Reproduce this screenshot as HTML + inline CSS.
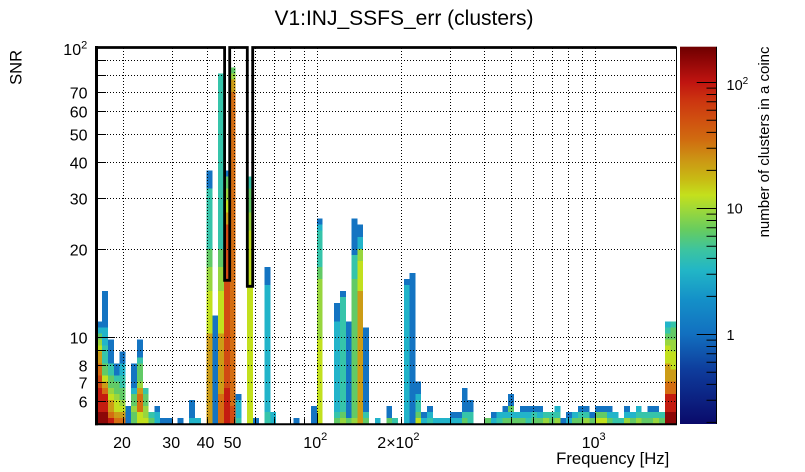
<!DOCTYPE html>
<html><head><meta charset="utf-8">
<style>
html,body{margin:0;padding:0;background:#fff}
svg{display:block}
text{font-family:"Liberation Sans",Arial,sans-serif;fill:#000}
.K{fill:#8c0808}.E{fill:#c41c10}.R{fill:#d04a12}.A{fill:#d46e12}.O{fill:#cc9c16}
.Y{fill:#c2e01e}.L{fill:#98d63e}.G{fill:#62ca66}.T{fill:#36c4aa}.C{fill:#22b4ca}.B{fill:#1474c2}
</style></head><body>
<svg width="805" height="472" viewBox="0 0 805 472" xmlns="http://www.w3.org/2000/svg">
<defs>
<linearGradient id="cb" x1="0" y1="0" x2="0" y2="1">
<stop offset="0" stop-color="#6e0000"/>
<stop offset="0.035" stop-color="#8e0606"/>
<stop offset="0.094" stop-color="#c01410"/>
<stop offset="0.141" stop-color="#cc3410"/>
<stop offset="0.194" stop-color="#d05010"/>
<stop offset="0.247" stop-color="#d06c10"/>
<stop offset="0.300" stop-color="#cc9614"/>
<stop offset="0.353" stop-color="#c8bc14"/>
<stop offset="0.393" stop-color="#c4e01c"/>
<stop offset="0.433" stop-color="#9cd83a"/>
<stop offset="0.486" stop-color="#66cc60"/>
<stop offset="0.539" stop-color="#3cc4a0"/>
<stop offset="0.592" stop-color="#22b6c6"/>
<stop offset="0.671" stop-color="#1490c8"/>
<stop offset="0.761" stop-color="#1270c0"/>
<stop offset="0.857" stop-color="#0e3c9c"/>
<stop offset="1" stop-color="#0a0a6a"/>
</linearGradient>
</defs>
<rect width="805" height="472" fill="#fff"/>

<g transform="translate(96.4,424) scale(5.8,-6.04)" shape-rendering="crispEdges">
<!-- col0 -->
<rect class="K" x="0" y="0" width="1" height="2"/><rect class="E" x="0" y="2" width="1" height="4"/><rect class="R" x="0" y="6" width="1" height="2"/><rect class="A" x="0" y="8" width="1" height="2"/><rect class="O" x="0" y="10" width="1" height="2"/><rect class="Y" x="0" y="12" width="1" height="1"/><rect class="L" x="0" y="13" width="1" height="1"/><rect class="G" x="0" y="14" width="1" height="1"/><rect class="C" x="0" y="15" width="1" height="1"/><rect class="B" x="0" y="16" width="1" height="1"/>
<!-- col1 -->
<rect class="K" x="1" y="0" width="1" height="2"/><rect class="E" x="1" y="2" width="1" height="3"/><rect class="A" x="1" y="5" width="1" height="1"/><rect class="O" x="1" y="6" width="1" height="1"/><rect class="Y" x="1" y="7" width="1" height="1"/><rect class="G" x="1" y="8" width="1" height="2"/><rect class="T" x="1" y="10" width="1" height="3"/><rect class="C" x="1" y="13" width="1" height="3"/><rect class="B" x="1" y="16" width="1" height="6"/>
<!-- col2 -->
<rect class="E" x="2" y="0" width="1" height="1"/><rect class="A" x="2" y="1" width="1" height="1"/><rect class="O" x="2" y="2" width="1" height="2"/><rect class="Y" x="2" y="4" width="1" height="1"/><rect class="L" x="2" y="5" width="1" height="1"/><rect class="G" x="2" y="6" width="1" height="2"/><rect class="T" x="2" y="8" width="1" height="2"/><rect class="B" x="2" y="10" width="1" height="4"/>
<!-- col3 -->
<rect class="A" x="3" y="0" width="1" height="1"/><rect class="O" x="3" y="1" width="1" height="1"/><rect class="Y" x="3" y="2" width="1" height="2"/><rect class="L" x="3" y="4" width="1" height="1"/><rect class="G" x="3" y="5" width="1" height="2"/><rect class="T" x="3" y="7" width="1" height="1"/><rect class="B" x="3" y="8" width="1" height="2"/>
<!-- col4 -->
<rect class="A" x="4" y="0" width="1" height="1"/><rect class="O" x="4" y="1" width="1" height="1"/><rect class="Y" x="4" y="2" width="1" height="1"/><rect class="L" x="4" y="3" width="1" height="1"/><rect class="G" x="4" y="4" width="1" height="2"/><rect class="T" x="4" y="6" width="1" height="2"/><rect class="C" x="4" y="8" width="1" height="2"/><rect class="B" x="4" y="10" width="1" height="2"/>
<!-- col5 -->
<rect class="B" x="5" y="0" width="1" height="3"/>
<!-- col6 -->
<rect class="G" x="6" y="0" width="1" height="2"/><rect class="L" x="6" y="2" width="1" height="1"/><rect class="G" x="6" y="3" width="1" height="2"/><rect class="C" x="6" y="5" width="1" height="1"/><rect class="B" x="6" y="6" width="1" height="4"/>
<!-- col7 -->
<rect class="Y" x="7" y="0" width="1" height="2"/><rect class="A" x="7" y="2" width="1" height="3"/><rect class="O" x="7" y="5" width="1" height="1"/><rect class="L" x="7" y="6" width="1" height="1"/><rect class="G" x="7" y="7" width="1" height="3"/><rect class="T" x="7" y="10" width="1" height="1"/><rect class="B" x="7" y="11" width="1" height="3"/>
<!-- col8 -->
<rect class="Y" x="8" y="0" width="1" height="1"/><rect class="L" x="8" y="1" width="1" height="2"/><rect class="G" x="8" y="3" width="1" height="2"/><rect class="T" x="8" y="5" width="1" height="1"/>
<!-- col9 -->
<rect class="G" x="9" y="0" width="1" height="1"/><rect class="T" x="9" y="1" width="1" height="1"/>
<!-- col10 -->
<rect class="C" x="10" y="0" width="1" height="2"/><rect class="B" x="10" y="2" width="1" height="1"/>
<rect class="B" x="11" y="0" width="1" height="1"/>
<rect class="B" x="12" y="0" width="1" height="1"/>
<rect class="B" x="14" y="0" width="1" height="1"/>
<!-- col16 -->
<rect class="C" x="16" y="0" width="1" height="1"/><rect class="B" x="16" y="1" width="1" height="3"/>
<rect class="C" x="17" y="0" width="1" height="1"/>
<!-- col19 -->
<rect class="O" x="19" y="0" width="1" height="15"/><rect class="Y" x="19" y="15" width="1" height="7"/><rect class="L" x="19" y="22" width="1" height="4"/><rect class="G" x="19" y="26" width="1" height="3"/><rect class="T" x="19" y="29" width="1" height="10"/><rect class="B" x="19" y="39" width="1" height="3"/>
<!-- col20 -->
<rect class="B" x="20" y="0" width="1" height="18"/>
<!-- col21 -->
<rect class="A" x="21" y="0" width="1" height="5"/><rect class="O" x="21" y="5" width="1" height="10"/><rect class="Y" x="21" y="15" width="1" height="7"/><rect class="L" x="21" y="22" width="1" height="4"/><rect class="G" x="21" y="26" width="1" height="3"/><rect class="T" x="21" y="29" width="1" height="29"/>
<!-- col22 -->
<rect class="E" x="22" y="0" width="1" height="6"/><rect class="R" x="22" y="6" width="1" height="27"/><rect class="O" x="22" y="33" width="1" height="2"/><rect class="Y" x="22" y="35" width="1" height="2"/><rect class="L" x="22" y="37" width="1" height="2"/><rect class="G" x="22" y="39" width="1" height="2"/><rect class="B" x="22" y="41" width="1" height="1"/>
<!-- col23 -->
<rect class="R" x="23" y="0" width="1" height="3"/><rect class="A" x="23" y="3" width="1" height="52"/><rect class="O" x="23" y="55" width="1" height="2"/><rect class="L" x="23" y="57" width="1" height="1"/><rect class="G" x="23" y="58" width="1" height="1"/>
<!-- col24 -->
<rect class="T" x="24" y="0" width="1" height="1"/><rect class="C" x="24" y="1" width="1" height="3"/><rect class="B" x="24" y="4" width="1" height="1"/>
<!-- col26 -->
<rect class="Y" x="26" y="0" width="1" height="32"/><rect class="L" x="26" y="32" width="1" height="3"/><rect class="G" x="26" y="35" width="1" height="4"/><rect class="T" x="26" y="39" width="1" height="2"/>
<rect class="B" x="27" y="0" width="1" height="1"/>
<!-- col29 -->
<rect class="T" x="29" y="0" width="1" height="2"/><rect class="C" x="29" y="2" width="1" height="21"/><rect class="B" x="29" y="23" width="1" height="3"/>
<rect class="C" x="30" y="0" width="1" height="2"/>
<rect class="B" x="34" y="0" width="1" height="1"/>
<rect class="B" x="37" y="0" width="1" height="3"/>
<!-- col38 -->
<rect class="Y" x="38" y="0" width="1" height="14"/><rect class="L" x="38" y="14" width="1" height="10"/><rect class="G" x="38" y="24" width="1" height="2"/><rect class="T" x="38" y="26" width="1" height="6"/><rect class="C" x="38" y="32" width="1" height="1"/><rect class="B" x="38" y="33" width="1" height="1"/>
<!-- col41 -->
<rect class="G" x="41" y="0" width="1" height="1"/><rect class="T" x="41" y="1" width="1" height="1"/><rect class="C" x="41" y="2" width="1" height="15"/><rect class="B" x="41" y="17" width="1" height="3"/>
<!-- col42 -->
<rect class="L" x="42" y="0" width="1" height="1"/><rect class="G" x="42" y="1" width="1" height="1"/><rect class="T" x="42" y="2" width="1" height="19"/><rect class="B" x="42" y="21" width="1" height="1"/>
<!-- col43 -->
<rect class="G" x="43" y="0" width="1" height="1"/><rect class="B" x="43" y="1" width="1" height="16"/>
<!-- col44 -->
<rect class="L" x="44" y="0" width="1" height="1"/><rect class="G" x="44" y="1" width="1" height="23"/><rect class="T" x="44" y="24" width="1" height="4"/><rect class="B" x="44" y="28" width="1" height="6"/>
<!-- col45 -->
<rect class="O" x="45" y="0" width="1" height="22"/><rect class="Y" x="45" y="22" width="1" height="5"/><rect class="L" x="45" y="27" width="1" height="2"/><rect class="C" x="45" y="29" width="1" height="2"/><rect class="B" x="45" y="31" width="1" height="2"/>
<!-- col46 -->
<rect class="G" x="46" y="0" width="1" height="1"/><rect class="T" x="46" y="1" width="1" height="1"/><rect class="B" x="46" y="2" width="1" height="14"/>
<rect class="C" x="48" y="0" width="1" height="1"/>
<rect class="G" x="50" y="0" width="1" height="1"/><rect class="B" x="50" y="1" width="1" height="2"/>
<rect class="T" x="51" y="0" width="1" height="1"/>
<!-- col53,54 -->
<rect class="C" x="53" y="0" width="1" height="23"/><rect class="B" x="53" y="23" width="1" height="1"/>
<rect class="B" x="54" y="0" width="1" height="25"/>
<!-- col55 -->
<rect class="Y" x="55" y="0" width="1" height="1"/><rect class="G" x="55" y="1" width="1" height="1"/><rect class="T" x="55" y="2" width="1" height="2"/><rect class="C" x="55" y="4" width="1" height="1"/><rect class="B" x="55" y="5" width="1" height="2"/>
<rect class="C" x="56" y="0" width="1" height="1"/><rect class="B" x="56" y="1" width="1" height="1"/>
<rect class="T" x="57" y="0" width="1" height="1"/><rect class="C" x="57" y="1" width="1" height="1"/><rect class="B" x="57" y="2" width="1" height="1"/>
<rect class="C" x="58" y="0" width="3" height="1"/>
<rect class="C" x="61" y="0" width="2" height="1"/><rect class="B" x="61" y="1" width="2" height="1"/>
<rect class="G" x="63" y="0" width="1" height="1"/><rect class="T" x="63" y="1" width="1" height="1"/><rect class="B" x="63" y="2" width="1" height="4"/>
<rect class="T" x="64" y="0" width="1" height="2"/><rect class="B" x="64" y="2" width="1" height="2"/>
<rect class="G" x="67" y="0" width="1" height="1"/>
<rect class="C" x="68" y="0" width="1" height="1"/><rect class="B" x="68" y="1" width="1" height="1"/>
<rect class="T" x="69" y="0" width="1" height="1"/><rect class="C" x="69" y="1" width="1" height="1"/>
<rect class="G" x="70" y="0" width="1" height="1"/><rect class="C" x="70" y="1" width="1" height="1"/><rect class="B" x="70" y="2" width="1" height="1"/>
<rect class="G" x="71" y="0" width="1" height="1"/><rect class="C" x="71" y="1" width="1" height="1"/><rect class="G" x="71" y="2" width="1" height="1"/><rect class="B" x="71" y="3" width="1" height="2"/>
<rect class="G" x="72" y="0" width="1" height="1"/><rect class="C" x="72" y="1" width="1" height="1"/>
<rect class="G" x="73" y="0" width="1" height="1"/><rect class="C" x="73" y="1" width="1" height="1"/><rect class="B" x="73" y="2" width="1" height="1"/>
<rect class="T" x="74" y="0" width="1" height="1"/><rect class="C" x="74" y="1" width="1" height="1"/><rect class="B" x="74" y="2" width="1" height="1"/>
<rect class="G" x="75" y="0" width="1" height="1"/><rect class="T" x="75" y="1" width="1" height="1"/><rect class="B" x="75" y="2" width="1" height="1"/>
<rect class="G" x="76" y="0" width="1" height="1"/><rect class="C" x="76" y="1" width="1" height="1"/><rect class="B" x="76" y="2" width="1" height="1"/>
<rect class="L" x="77" y="0" width="1" height="1"/><rect class="T" x="77" y="1" width="1" height="1"/>
<rect class="G" x="78" y="0" width="1" height="1"/><rect class="T" x="78" y="1" width="1" height="1"/>
<rect class="L" x="79" y="0" width="1" height="1"/><rect class="T" x="79" y="1" width="1" height="1"/><rect class="C" x="79" y="2" width="1" height="1"/>
<rect class="B" x="80" y="0" width="1" height="1"/>
<rect class="C" x="81" y="0" width="1" height="1"/><rect class="B" x="81" y="1" width="1" height="1"/>
<rect class="G" x="82" y="0" width="1" height="1"/><rect class="C" x="82" y="1" width="1" height="1"/>
<rect class="G" x="83" y="0" width="1" height="1"/><rect class="T" x="83" y="1" width="1" height="1"/><rect class="B" x="83" y="2" width="1" height="1"/>
<rect class="L" x="84" y="0" width="1" height="1"/><rect class="T" x="84" y="1" width="1" height="1"/><rect class="B" x="84" y="2" width="1" height="1"/>
<rect class="G" x="85" y="0" width="1" height="1"/><rect class="B" x="85" y="1" width="1" height="1"/>
<rect class="Y" x="86" y="0" width="2" height="1"/><rect class="G" x="86" y="1" width="2" height="1"/><rect class="B" x="86" y="2" width="2" height="1"/>
<rect class="G" x="88" y="0" width="1" height="1"/><rect class="C" x="88" y="1" width="1" height="1"/><rect class="B" x="88" y="2" width="1" height="1"/>
<rect class="T" x="89" y="0" width="1" height="1"/><rect class="C" x="89" y="1" width="1" height="1"/>
<rect class="T" x="90" y="0" width="1" height="1"/>
<rect class="L" x="91" y="0" width="1" height="1"/><rect class="C" x="91" y="1" width="1" height="1"/><rect class="B" x="91" y="2" width="1" height="1"/>
<rect class="G" x="92" y="0" width="1" height="1"/><rect class="C" x="92" y="1" width="1" height="1"/>
<rect class="L" x="93" y="0" width="1" height="1"/><rect class="T" x="93" y="1" width="1" height="1"/><rect class="C" x="93" y="2" width="1" height="1"/>
<rect class="G" x="94" y="0" width="1" height="1"/><rect class="T" x="94" y="1" width="1" height="1"/>
<rect class="G" x="95" y="0" width="1" height="1"/><rect class="T" x="95" y="1" width="1" height="1"/><rect class="B" x="95" y="2" width="1" height="1"/>
<rect class="L" x="96" y="0" width="1" height="1"/><rect class="T" x="96" y="1" width="1" height="1"/><rect class="B" x="96" y="2" width="1" height="1"/>
<rect class="G" x="97" y="0" width="1" height="1"/><rect class="T" x="97" y="1" width="1" height="1"/>
<!-- col98 -->
<rect class="K" x="98" y="0" width="1" height="2"/><rect class="E" x="98" y="2" width="1" height="3"/><rect class="A" x="98" y="5" width="1" height="2"/><rect class="O" x="98" y="7" width="1" height="3"/><rect class="Y" x="98" y="10" width="1" height="3"/><rect class="L" x="98" y="13" width="1" height="1"/><rect class="G" x="98" y="14" width="1" height="1"/><rect class="T" x="98" y="15" width="1" height="1"/><rect class="C" x="98" y="16" width="1" height="1"/>
<!-- col99 -->
<rect class="K" x="99" y="0" width="1" height="2"/><rect class="E" x="99" y="2" width="1" height="3"/><rect class="A" x="99" y="5" width="1" height="2"/><rect class="O" x="99" y="7" width="1" height="2"/><rect class="Y" x="99" y="9" width="1" height="3"/><rect class="L" x="99" y="12" width="1" height="2"/><rect class="G" x="99" y="14" width="1" height="2"/><rect class="T" x="99" y="16" width="1" height="1"/>
</g>

<!-- grid -->
<path d="M123.5,48V424M172.5,48V424M207.5,48V424M234.5,48V424M255.5,48V424M274.5,48V424M290.5,48V424M304.5,48V424M317.5,48V424M401.5,48V424M450.5,48V424M484.5,48V424M511.5,48V424M533.5,48V424M552.5,48V424M568.5,48V424M582.5,48V424M595.5,48V424
M98,60.5H676M98,75.5H676M98,92.5H676M98,111.5H676M98,134.5H676M98,162.5H676M98,198.5H676M98,249.5H676M98,337.5H676M98,350.5H676M98,365.5H676M98,382.5H676M98,401.5H676" stroke="#000" stroke-width="1" stroke-dasharray="1,2" fill="none"/>

<!-- ticks -->
<path d="M317.5,424V413M595.5,424V413M123.5,424V418.3M172.5,424V418.3M207.5,424V418.3M234.5,424V418.3M255.5,424V418.3M274.5,424V418.3M290.5,424V418.3M304.5,424V418.3M401.5,424V418.3M450.5,424V418.3M484.5,424V418.3M511.5,424V418.3M533.5,424V418.3M552.5,424V418.3M568.5,424V418.3M582.5,424V418.3
M96,337.5H115M96,350.5H106M96,365.5H106M96,382.5H106M96,401.5H106M96,249.5H106M96,198.5H106M96,162.5H106M96,134.5H106M96,111.5H106M96,92.5H106M96,75.5H106M96,60.5H106" stroke="#000" stroke-width="1" fill="none"/>

<!-- frame -->
<path d="M95,47.5H224.6V280.3H229.7V47.5H247.3V286.3H252.7V47.5H676.5" stroke="#000" stroke-width="2.8" fill="none" stroke-linejoin="miter"/>
<line x1="96.5" y1="46" x2="96.5" y2="425.3" stroke="#000" stroke-width="3"/>
<line x1="95" y1="424.3" x2="677" y2="424.3" stroke="#000" stroke-width="2"/>
<line x1="676.5" y1="47" x2="676.5" y2="424" stroke="#000" stroke-width="1"/>

<!-- colorbar -->
<rect x="680" y="46.7" width="36.5" height="377.3" fill="url(#cb)"/>
<line x1="716.5" y1="46.7" x2="716.5" y2="424" stroke="#000" stroke-width="1"/>
<path d="M716.5,82.5H696.7M716.5,208.5H696.7M716.5,334.5H696.7
M716.5,88.1H706.5M716.5,94.5H706.5M716.5,101.8H706.5M716.5,110.3H706.5M716.5,120.2H706.5M716.5,132.4H706.5M716.5,148.2H706.5M716.5,170.4H706.5
M716.5,214.1H706.5M716.5,220.5H706.5M716.5,227.8H706.5M716.5,236.3H706.5M716.5,246.2H706.5M716.5,258.4H706.5M716.5,274.2H706.5M716.5,296.4H706.5
M716.5,340.1H706.5M716.5,346.5H706.5M716.5,353.8H706.5M716.5,362.3H706.5M716.5,372.2H706.5M716.5,384.4H706.5M716.5,400.2H706.5M716.5,422.4H706.5" stroke="#000" stroke-width="1" fill="none"/>

<!-- title -->
<text x="404" y="25" font-size="21" text-anchor="middle">V1:INJ_SSFS_err (clusters)</text>

<!-- y labels -->
<g font-size="16" text-anchor="end">
<text x="87.5" y="98.3">70</text>
<text x="87.5" y="117.3">60</text>
<text x="87.5" y="140.3">50</text>
<text x="87.5" y="168.3">40</text>
<text x="87.5" y="204.3">30</text>
<text x="87.5" y="255.3">20</text>
<text x="87.5" y="343.3">10</text>
<text x="87.5" y="371.3">8</text>
<text x="87.5" y="388.3">7</text>
<text x="87.5" y="407.3">6</text>
</g>
<text x="63.3" y="55" font-size="16">10<tspan font-size="11" dy="-6.5">2</tspan></text>

<!-- x labels -->
<g font-size="16" text-anchor="middle">
<text x="122" y="448">20</text>
<text x="171.2" y="448">30</text>
<text x="205.5" y="448">40</text>
<text x="232.5" y="448">50</text>
</g>
<text x="303.3" y="448" font-size="16">10<tspan font-size="11" dy="-8">2</tspan></text>
<text x="377.3" y="448" font-size="16">2×10<tspan font-size="11" dy="-8">2</tspan></text>
<text x="581.7" y="448" font-size="16">10<tspan font-size="11" dy="-8">3</tspan></text>
<text x="669.3" y="464" font-size="16.7" text-anchor="end">Frequency [Hz]</text>

<!-- SNR -->
<text transform="translate(21.7,50) rotate(-90)" font-size="16.5" text-anchor="end">SNR</text>

<!-- colorbar labels -->
<text x="726.5" y="90" font-size="14.5">10<tspan font-size="10" dy="-6">2</tspan></text>
<text x="726.5" y="213.5" font-size="14.5">10</text>
<text x="726.5" y="340" font-size="14.5">1</text>
<text transform="translate(769,46.5) rotate(-90)" font-size="15" text-anchor="end">number of clusters in a coinc</text>
</svg>
</body></html>
